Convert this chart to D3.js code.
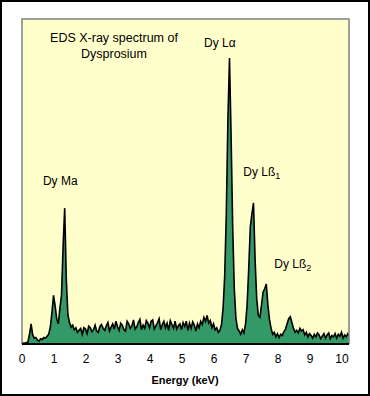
<!DOCTYPE html>
<html lang="en">
<head>
  <meta charset="UTF-8">
  <title>EDS X-ray spectrum of Dysprosium</title>
  <script src="https://d3js.org/d3.v7.min.js"></script>
  <style>
    body { margin: 0; background: #fff; }
    svg text { font-family: "Liberation Sans", Arial, sans-serif; fill: #000; }
  </style>
</head>
<body>
  <svg width="370" height="396"></svg>

  <script>
    // spectrum channels: start energy and step (keV), counts
    let channelStart = 0;
    let channelStep = 0.05;
    let counts = [
      2, 3, 3, 4, 6, 30, 62, 28, 18, 20,
      12, 9, 16, 14, 20, 18, 24, 30, 52, 95,
      150, 118, 78, 62, 110, 150, 300, 418, 200, 90,
      66, 52, 58, 44, 50, 36, 42, 48, 30, 50,
      46, 32, 55, 50, 38, 44, 58, 40, 36, 54,
      60, 48, 42, 56, 66, 40, 52, 62, 46, 70,
      54, 42, 64, 58, 44, 40, 70, 62, 48, 56,
      74, 46, 52, 66, 76, 44, 58, 48, 72, 64,
      50, 70, 74, 46, 56, 66, 78, 44, 60, 70,
      50, 64, 42, 72, 60, 48, 70, 46, 56, 62,
      44, 66, 54, 70, 42, 64, 48, 68, 58, 40,
      62, 50, 70, 60, 82, 70, 88, 64, 72, 50,
      62, 44, 50, 36, 42, 60, 110, 210, 400, 690,
      880, 640, 360, 170, 80, 48, 40, 30, 44, 34,
      60, 120, 230, 360, 400, 434, 260, 140, 88, 82,
      120, 160, 170, 185, 120, 75, 48, 30, 36, 22,
      32, 20, 30, 26, 38, 46, 62, 78, 84, 66,
      48, 36, 42, 34, 48, 40, 44, 28, 36, 22,
      32, 26, 18, 30, 22, 34, 28, 16, 24, 32,
      18, 28, 34, 16, 26, 22, 32, 18, 30, 24,
      36, 18, 28, 22, 32, 24
    ];

    let xTicks = [0, 1, 2, 3, 4, 5, 6, 7, 8, 9, 10];

    let peakLabels = [
      { name: "Dy Lα", sub: "", e: 6.2, c: 915, anchor: "middle" },
      { name: "Dy Ma", sub: "", e: 0.67, c: 490, anchor: "start" },
      { name: "Dy Lß", sub: "1", e: 6.93, c: 518, anchor: "start" },
      { name: "Dy Lß", sub: "2", e: 7.9, c: 235, anchor: "start" }
    ];

    let titleLines = ["EDS X-ray spectrum of", "Dysprosium"];

    let spectrum = counts.map((c, i) => ({ e: channelStart + i * channelStep, c: c }));

    let svg = d3.select("svg");
    let width = +svg.attr("width");
    let height = +svg.attr("height");
    let plot = { left: 22, top: 19, right: 349, bottom: 344 };

    let x = d3.scaleLinear().domain([0, 10]).range([21.5, 341.5]);
    let y = d3.scaleLinear().domain([0, 1000]).range([plot.bottom, plot.top]);

    // outer frame
    svg.append("rect")
      .attr("x", 1).attr("y", 1)
      .attr("width", width - 2).attr("height", height - 2)
      .attr("fill", "#fff")
      .attr("stroke", "#000")
      .attr("stroke-width", 2);

    // plot background
    svg.append("rect")
      .attr("x", plot.left).attr("y", plot.top)
      .attr("width", plot.right - plot.left).attr("height", plot.bottom - plot.top)
      .attr("fill", "#ffffcc");

    svg.append("clipPath").attr("id", "clip")
      .append("rect")
      .attr("x", plot.left).attr("y", plot.top - 2)
      .attr("width", plot.right - plot.left).attr("height", plot.bottom - plot.top + 2);

    let g = svg.append("g").attr("clip-path", "url(#clip)");

    g.append("path")
      .datum(spectrum)
      .attr("fill", "#339966")
      .attr("d", d3.area().x(d => x(d.e)).y0(plot.bottom).y1(d => y(d.c)));

    g.append("path")
      .datum(spectrum)
      .attr("fill", "none")
      .attr("stroke", "#000")
      .attr("stroke-width", 1.6)
      .attr("d", d3.line().x(d => x(d.e)).y(d => y(d.c)));

    // plot border (grey), black baseline
    svg.append("path")
      .attr("d", `M${plot.left},${plot.bottom}V${plot.top}H${plot.right}V${plot.bottom}`)
      .attr("fill", "none")
      .attr("stroke", "#808080")
      .attr("stroke-width", 1.5);

    svg.append("line")
      .attr("x1", plot.left).attr("x2", plot.right)
      .attr("y1", plot.bottom).attr("y2", plot.bottom)
      .attr("stroke", "#000")
      .attr("stroke-width", 2);

    // x axis labels
    let axis = svg.append("g")
      .attr("transform", `translate(0,${plot.bottom + 10})`)
      .call(d3.axisBottom(x).tickValues(xTicks).tickSize(0).tickPadding(0));
    axis.select(".domain").remove();
    axis.selectAll("text")
      .attr("font-size", 12)
      .attr("font-family", "Liberation Sans, Arial, sans-serif");

    svg.append("text")
      .attr("x", 185).attr("y", 384)
      .attr("text-anchor", "middle")
      .attr("font-size", 11)
      .attr("font-weight", "bold")
      .text("Energy (keV)");

    // title
    svg.selectAll(".title")
      .data(titleLines)
      .enter().append("text")
      .attr("class", "title")
      .attr("x", 114)
      .attr("y", (d, i) => 42 + i * 16)
      .attr("text-anchor", "middle")
      .attr("font-size", 12.5)
      .text(d => d);

    // peak labels
    let labels = svg.selectAll(".peak")
      .data(peakLabels)
      .enter().append("text")
      .attr("class", "peak")
      .attr("x", d => x(d.e))
      .attr("y", d => y(d.c))
      .attr("text-anchor", d => d.anchor)
      .attr("font-size", 12);
    labels.append("tspan").text(d => d.name);
    labels.append("tspan")
      .attr("font-size", 9)
      .attr("dy", 3)
      .text(d => d.sub);
  </script>
</body>
</html>
